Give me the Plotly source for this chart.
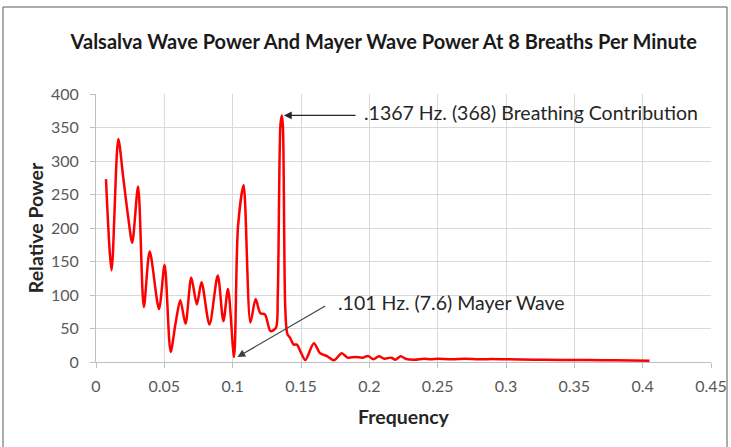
import plotly.graph_objects as go

# Data
frequency = [0.0073, 0.0114, 0.0163, 0.0199, 0.0235, 0.0265, 0.0308, 0.0350, 0.0393, 0.0461,
             0.0502, 0.0546, 0.0580, 0.0617, 0.0655, 0.0697, 0.0738, 0.0772, 0.0830, 0.0891,
             0.0932, 0.0966, 0.1010, 0.1039, 0.1080, 0.1130, 0.1168, 0.1202, 0.1236, 0.1277,
             0.1316, 0.1330, 0.1350, 0.1360, 0.1368, 0.1385, 0.1400, 0.1420, 0.1446, 0.1470,
             0.1500, 0.1532, 0.1594, 0.1640, 0.1693, 0.1741, 0.1798, 0.1840, 0.1900, 0.1950,
             0.1990, 0.2030, 0.2070, 0.2110, 0.2160, 0.2190, 0.2230, 0.2270, 0.2330, 0.2400,
             0.2450, 0.2500, 0.2600, 0.2700, 0.2800, 0.2900, 0.3000, 0.3200, 0.3400, 0.3600,
             0.3800, 0.4050]
relative_power = [273, 137, 333, 276, 217, 178, 262, 82, 165, 79,
                  145, 15, 55, 92, 57, 126, 86, 119, 56, 129,
                  61, 109, 7.6, 202, 264, 59, 94, 73, 71, 46,
                  51, 100, 355, 368, 350, 80, 42, 36, 26, 26,
                  14, 3, 28, 13, 8.5, 2.5, 13, 6.5, 7.5, 6.5,
                  9, 4, 8.5, 5, 6.5, 3.5, 8.5, 4.5, 3.5, 5,
                  4, 5, 4, 5, 4, 4.5, 4, 3.5, 3, 3,
                  2.5, 2]

x_tick_values = [0, 0.05, 0.1, 0.15, 0.2, 0.25, 0.3, 0.35, 0.4, 0.45]
x_tick_labels = ["0", "0.05", "0.1", "0.15", "0.2", "0.25", "0.3", "0.35", "0.4", "0.45"]
y_tick_values = [0, 50, 100, 150, 200, 250, 300, 350, 400]

title_text = "Valsalva Wave Power And Mayer Wave Power At 8 Breaths Per Minute"
breathing_label = ".1367 Hz. (368) Breathing Contribution"
mayer_label = ".101 Hz. (7.6) Mayer Wave"

assert len(frequency) == len(relative_power)

FONT = "Lato"
TICK_COLOR = "#595959"
GRID = "#d9d9d9"

fig = go.Figure()
fig.add_trace(go.Scatter(
    x=frequency, y=relative_power, mode="lines",
    line=dict(color="#ff0000", width=2.5, shape="spline", smoothing=0.8),
    showlegend=False, hoverinfo="x+y",
))

fig.update_layout(
    width=731, height=447,
    margin=dict(l=96, r=20, t=94, b=85, autoexpand=False),
    paper_bgcolor="white", plot_bgcolor="white",
    font=dict(family=FONT, color=TICK_COLOR, size=16),
    title=dict(text="<b>" + title_text + "</b>", x=0.525, xanchor="center",
               y=1 - 42 / 447, yanchor="middle",
               font=dict(family=FONT, size=20, color="#1a1a1a")),
    xaxis=dict(range=[0, 0.45], tickvals=x_tick_values, ticktext=x_tick_labels,
               showgrid=True, gridcolor=GRID, gridwidth=1,
               showline=True, linecolor="#bfbfbf", linewidth=1,
               ticks="outside", ticklen=5, tickcolor="#bfbfbf",
               tickfont=dict(size=16, color=TICK_COLOR), ticklabelstandoff=5,
               zeroline=False, automargin=False,
               title=dict(text="<b>Frequency</b>", font=dict(size=19.5, color="#262626"), standoff=16)),
    yaxis=dict(range=[0, 400], tickvals=y_tick_values,
               showgrid=True, gridcolor=GRID, gridwidth=1,
               showline=True, linecolor="#bfbfbf", linewidth=1,
               ticks="outside", ticklen=5, tickcolor="#bfbfbf",
               tickfont=dict(size=16, color=TICK_COLOR), ticklabelstandoff=8,
               zeroline=False, automargin=False,
               title=dict(text="<b>Relative Power</b>", font=dict(size=19.5, color="#262626"), standoff=2)),
)

# Outer chart border
fig.add_shape(type="rect", xref="paper", yref="paper",
              x0=(3 - 96) / 615, x1=(727 - 96) / 615,
              y0=-0.5, y1=(362 - 7) / 268,
              line=dict(color="#595959", width=1), fillcolor="rgba(0,0,0,0)", layer="below")

# Arrows
fig.add_annotation(x=0.1375, y=368, ax=0.191, ay=368, axref="x", ayref="y",
                   xref="x", yref="y", text="", showarrow=True,
                   arrowhead=2, arrowsize=1.3, arrowwidth=1.2, arrowcolor="#262626")
fig.add_annotation(x=0.1035, y=7.5, ax=0.1688, ay=85, axref="x", ayref="y",
                   xref="x", yref="y", text="", showarrow=True,
                   arrowhead=2, arrowsize=1.3, arrowwidth=1.2, arrowcolor="#404040")
# Labels
fig.add_annotation(x=0.1945, y=372, xref="x", yref="y", text=breathing_label,
                   showarrow=False, xanchor="left", yanchor="middle",
                   font=dict(family=FONT, size=19.5, color="#262626"))
fig.add_annotation(x=0.1755, y=89, xref="x", yref="y", text=mayer_label,
                   showarrow=False, xanchor="left", yanchor="middle",
                   font=dict(family=FONT, size=19.5, color="#262626"))

fig.write_html("out.html", config={"displayModeBar": False},
               post_script="document.body.style.margin='0px';")
